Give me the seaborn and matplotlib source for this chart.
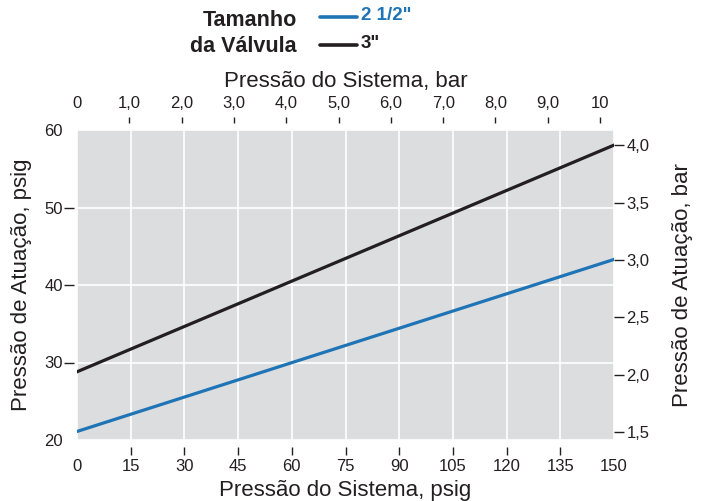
import matplotlib
matplotlib.use("Agg")
import matplotlib.pyplot as plt
from matplotlib.lines import Line2D
import seaborn as sns
import pandas as pd

# ---- data ----
system_psig = [0, 150]
actuation_2_5in = [21.1, 43.3]
actuation_3in = [28.8, 58.05]
series_labels = ['2 1/2"', '3"']
bottom_ticks = [0, 15, 30, 45, 60, 75, 90, 105, 120, 135, 150]
left_ticks = [20, 30, 40, 50, 60]
top_ticks = [0, 1, 2, 3, 4, 5, 6, 7, 8, 9, 10]
top_tick_labels = ["0", "1,0", "2,0", "3,0", "4,0", "5,0", "6,0", "7,0", "8,0", "9,0", "10"]
right_ticks = [1.5, 2.0, 2.5, 3.0, 3.5, 4.0]
right_tick_labels = ["1,5", "2,0", "2,5", "3,0", "3,5", "4,0"]

BLUE = "#1f74b6"
BLACK = "#231f20"
BG = "#dcdddf"
TXT = "#231f20"

df = pd.DataFrame({
    "psig": system_psig * 2,
    "act": actuation_2_5in + actuation_3in,
    "size": [series_labels[0]] * 2 + [series_labels[1]] * 2,
})

sns.set_theme(style="white")
plt.rcParams["font.family"] = ["Liberation Sans", "DejaVu Sans"]
plt.rcParams["text.color"] = TXT
plt.rcParams["axes.labelcolor"] = TXT
plt.rcParams["xtick.color"] = TXT
plt.rcParams["ytick.color"] = TXT

fig = plt.figure(figsize=(7.01, 5.01), dpi=100)
ax = fig.add_axes([77 / 701, 1 - 440 / 501, 537 / 701, 310 / 501])
ax.set_facecolor(BG)

sns.lineplot(data=df, x="psig", y="act", hue="size",
             palette={series_labels[0]: BLUE, series_labels[1]: BLACK},
             linewidth=2.3, legend=False, ax=ax, zorder=3)

ax.set_xlim(0, 150)
ax.set_ylim(20, 60)
ax.xaxis.remove_overlapping_locs = False
ax.yaxis.remove_overlapping_locs = False
ax.set_xticks(bottom_ticks)
ax.set_xticks(bottom_ticks[1:-1], minor=True)
ax.set_yticks(left_ticks)
ax.set_yticks(left_ticks[1:-1], minor=True)
ax.grid(True, which="major", color="white", linewidth=1.2)
ax.set_axisbelow(True)
for s in ax.spines.values():
    s.set_visible(False)
ax.spines["bottom"].set_position(("outward", 5))
ax.spines["left"].set_position(("outward", 2))
ax.tick_params(axis="x", which="major", length=0, pad=9, labelsize=12)
ax.tick_params(axis="x", which="minor", length=6, width=1, bottom=True)
ax.tick_params(axis="y", which="major", length=0, pad=8, labelsize=12)
ax.tick_params(axis="y", which="minor", length=7, width=1, left=True)
ax.set_xlabel("Pressão do Sistema, psig", fontsize=16, labelpad=4)
ax.set_ylabel("Pressão de Atuação, psig", fontsize=16, labelpad=9)

# top axis (bar)
axt = ax.twiny()
axt.set_xlim(0, 150 / 14.61)
axt.xaxis.remove_overlapping_locs = False
axt.set_xticks(top_ticks)
axt.set_xticklabels(top_tick_labels)
axt.set_xticks(top_ticks[1:], minor=True)
for s in axt.spines.values():
    s.set_visible(False)
axt.spines["top"].set_position(("outward", 5))
axt.tick_params(axis="x", which="major", length=0, pad=8.5, labelsize=12)
axt.tick_params(axis="x", which="minor", length=4.5, width=1, top=True)
axt.set_xlabel("Pressão do Sistema, bar", fontsize=16, labelpad=7)
axt.grid(False)

# right axis (bar)
axr = ax.twinx()
axr.set_ylim(1.43, 4.132)
axr.set_yticks(right_ticks)
axr.set_yticklabels(right_tick_labels)
for s in axr.spines.values():
    s.set_visible(False)
axr.tick_params(axis="y", length=7, width=1, pad=2, labelsize=12)
axr.set_ylabel("Pressão de Atuação, bar", fontsize=16, labelpad=16)
axr.grid(False)

# legend
fig.text(297 / 701, 1 - 21 / 501, "Tamanho", ha="right", va="center",
         fontsize=15.5, fontweight="bold", color=BLACK)
fig.text(297 / 701, 1 - 46 / 501, "da Válvula", ha="right", va="center",
         fontsize=15.5, fontweight="bold", color=BLACK)
fig.add_artist(Line2D([320 / 701, 357 / 701], [1 - 17 / 501, 1 - 17 / 501],
                      color=BLUE, linewidth=2.6, transform=fig.transFigure))
fig.add_artist(Line2D([320 / 701, 357 / 701], [1 - 45 / 501, 1 - 45 / 501],
                      color=BLACK, linewidth=2.6, transform=fig.transFigure))
fig.text(361 / 701, 1 - 16 / 501, series_labels[0], ha="left", va="center",
         fontsize=13.5, fontweight="bold", color=BLUE)
fig.text(361 / 701, 1 - 44 / 501, series_labels[1], ha="left", va="center",
         fontsize=13.5, fontweight="bold", color=BLACK)

fig.savefig("out.png", dpi=100)
